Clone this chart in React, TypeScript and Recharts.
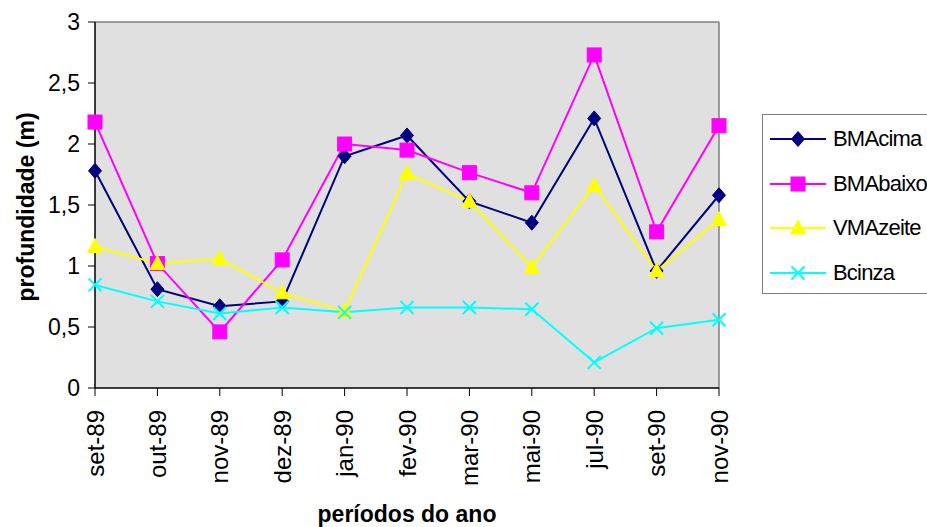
import React from 'react';
import { LineChart, Line, XAxis, YAxis, CartesianGrid, ReferenceLine } from 'recharts';

const categories = ['set-89', 'out-89', 'nov-89', 'dez-89', 'jan-90', 'fev-90', 'mar-90', 'mai-90', 'jul-90', 'set-90', 'nov-90'];
const bmaCima = [1.78, 0.81, 0.67, 0.71, 1.9, 2.07, 1.53, 1.355, 2.21, 0.96, 1.58];
const bmaBaixo = [2.18, 1.02, 0.46, 1.05, 2.0, 1.95, 1.765, 1.6, 2.73, 1.28, 2.15];
const vmaZeite = [1.16, 1.02, 1.06, 0.78, 0.63, 1.76, 1.53, 0.99, 1.66, 0.96, 1.38];
const bCinza = [0.845, 0.71, 0.61, 0.66, 0.62, 0.66, 0.66, 0.645, 0.21, 0.49, 0.56];
const yTicks = [0, 0.5, 1, 1.5, 2, 2.5, 3];

const FONT = '"Liberation Sans", Arial, sans-serif';

const rows = categories.map((name, i) => ({
  name,
  BMAcima: bmaCima[i],
  BMAbaixo: bmaBaixo[i],
  VMAzeite: vmaZeite[i],
  Bcinza: bCinza[i],
}));

type Shape = 'diamond' | 'square' | 'triangle' | 'cross';

const series: { key: string; color: string; shape: Shape }[] = [
  { key: 'BMAcima', color: '#000080', shape: 'diamond' },
  { key: 'BMAbaixo', color: '#FF00FF', shape: 'square' },
  { key: 'VMAzeite', color: '#FFFF00', shape: 'triangle' },
  { key: 'Bcinza', color: '#00FFFF', shape: 'cross' },
];

function marker(shape: Shape, color: string, cx: number, cy: number, key?: React.Key) {
  if (shape === 'diamond') {
    return <path key={key} d={`M${cx},${cy - 7.5}L${cx + 6.5},${cy}L${cx},${cy + 7.5}L${cx - 6.5},${cy}Z`} fill={color} stroke={color} />;
  }
  if (shape === 'square') {
    return <rect key={key} x={cx - 7} y={cy - 7} width={14} height={14} fill={color} stroke={color} />;
  }
  if (shape === 'triangle') {
    return <path key={key} d={`M${cx},${cy - 8}L${cx + 7.5},${cy + 6}L${cx - 7.5},${cy + 6}Z`} fill={color} stroke={color} />;
  }
  return (
    <path key={key} d={`M${cx - 6.5},${cy - 6.5}L${cx + 6.5},${cy + 6.5}M${cx + 6.5},${cy - 6.5}L${cx - 6.5},${cy + 6.5}`} stroke={color} strokeWidth={2} fill="none" />
  );
}

const makeDot = (shape: Shape, color: string) => (props: any) => {
  const { cx, cy, index } = props;
  if (cx == null || cy == null) return <g key={index} />;
  return marker(shape, color, cx, cy, index);
};

const XTick = (props: any) => {
  const { x, y, payload } = props;
  return (
    <text
      x={x}
      y={y + 12}
      transform={`rotate(-90, ${x}, ${y + 12})`}
      textAnchor="end"
      dy="0.36em"
      fontSize={24}
      fontFamily={FONT}
      fill="#000"
    >
      {payload.value}
    </text>
  );
};

export default function App() {
  return (
    <div style={{ position: 'absolute', left: 0, top: 0, width: 927, height: 527, overflow: 'hidden', background: '#fff' }}>
      <LineChart width={927} height={527} data={rows} margin={{ top: 22, right: 208, bottom: 0, left: 0 }}>
        <CartesianGrid fill="#E0E0E0" horizontal={false} vertical={false} />
        <ReferenceLine y={3} stroke="#808080" strokeWidth={1.5} />
        <ReferenceLine x="nov-90" stroke="#808080" strokeWidth={1.5} />
        <XAxis
          dataKey="name"
          scale="point"
          interval={0}
          height={139}
          tickSize={8}
          axisLine={{ stroke: '#000', strokeWidth: 1.5 }}
          tickLine={{ stroke: '#000' }}
          tick={<XTick />}
          label={{
            value: 'períodos do ano',
            content: (p: any) => (
              <text
                x={p.viewBox.x + p.viewBox.width / 2}
                y={522}
                textAnchor="middle"
                fontSize={23}
                fontWeight="bold"
                fontFamily={FONT}
                fill="#000"
              >
                períodos do ano
              </text>
            ),
          }}
        />
        <YAxis
          width={95}
          domain={[0, 3]}
          ticks={yTicks}
          interval={0}
          tickSize={7}
          tickMargin={8}
          axisLine={{ stroke: '#000', strokeWidth: 1.5 }}
          tickLine={{ stroke: '#000' }}
          tick={{ fontSize: 23, fontFamily: FONT, fill: '#000' }}
          tickFormatter={(v: number) => String(v).replace('.', ',')}
          label={{
            value: 'profundidade (m)',
            content: (p: any) => (
              <text
                x={26}
                y={p.viewBox.y + p.viewBox.height / 2 + 2}
                transform={`rotate(-90, 26, ${p.viewBox.y + p.viewBox.height / 2 + 2})`}
                textAnchor="middle"
                dy="0.36em"
                fontSize={23}
                fontWeight="bold"
                fontFamily={FONT}
                fill="#000"
              >
                profundidade (m)
              </text>
            ),
          }}
        />
        {series.map((s) => (
          <Line
            key={s.key}
            dataKey={s.key}
            type="linear"
            stroke={s.color}
            strokeWidth={2}
            dot={makeDot(s.shape, s.color)}
            activeDot={false}
            isAnimationActive={false}
          />
        ))}
      </LineChart>
      <div
        style={{
          position: 'absolute',
          left: 762,
          top: 114,
          width: 200,
          height: 180,
          border: '1.5px solid #808080',
          background: '#fff',
          boxSizing: 'border-box',
        }}
      >
        {series.map((s, i) => (
          <div key={s.key} style={{ position: 'absolute', left: 0, top: 8 + i * 44.7, height: 32, display: 'flex', alignItems: 'center' }}>
            <svg width={70} height={32} style={{ display: 'block' }}>
              <line x1={7} y1={16} x2={63} y2={16} stroke={s.color} strokeWidth={2} />
              {marker(s.shape, s.color, 35, 16)}
            </svg>
            <span style={{ fontFamily: FONT, fontSize: 22, letterSpacing: -0.8, color: '#000', whiteSpace: 'nowrap' }}>{s.key}</span>
          </div>
        ))}
      </div>
    </div>
  );
}
